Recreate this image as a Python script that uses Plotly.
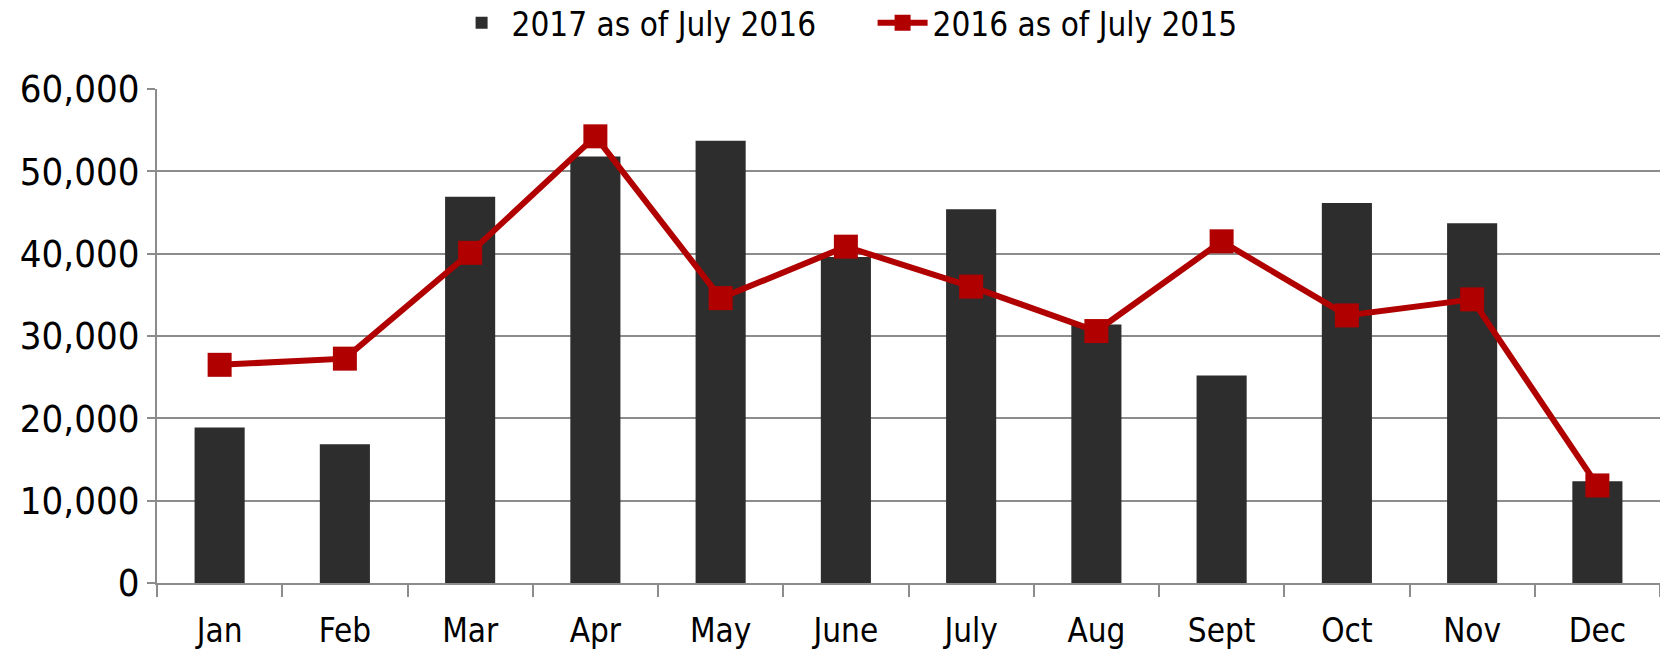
import plotly.graph_objects as go

months = ["Jan", "Feb", "Mar", "Apr", "May", "June", "July", "Aug", "Sept", "Oct", "Nov", "Dec"]
series_2017 = [18900, 16850, 46900, 51800, 53700, 39600, 45400, 31400, 25200, 46150, 43700, 12350]
series_2016 = [26500, 27250, 40100, 54250, 34600, 40850, 36000, 30600, 41500, 32500, 34450, 11850]
y_ticks = [0, 10000, 20000, 30000, 40000, 50000, 60000]

FONT = "Liberation Sans Narrow, DejaVu Sans Condensed, Arial Narrow, sans-serif"

fig = go.Figure()
fig.add_trace(go.Bar(
    x=months, y=series_2017, name="2017 as of July 2016",
    marker=dict(color="#2d2d2d", line=dict(width=0)), width=0.4,
))
fig.add_trace(go.Scatter(
    x=months, y=series_2016, name="2016 as of July 2015", mode="lines+markers",
    line=dict(color="#b00000", width=6),
    marker=dict(symbol="square", size=24, color="#b00000"),
))

fig.update_layout(
    width=1660, height=650,
    margin=dict(l=157, r=0, t=89, b=67, autoexpand=False),
    paper_bgcolor="white", plot_bgcolor="white",
    font=dict(family=FONT, size=33, color="black"),
    showlegend=True,
    legend=dict(orientation="h", x=0.196, xanchor="left",
                yref="container", y=0.965, yanchor="middle",
                font=dict(size=33), tracegroupgap=0, itemwidth=50,
                entrywidth=356, entrywidthmode="pixels"),
)
fig.update_xaxes(
    type="category", showline=True, linecolor="#8c8c8c", linewidth=2,
    ticks="outside", tickson="boundaries", ticklen=12, tickcolor="#8c8c8c", tickwidth=2,
    showgrid=False, tickfont=dict(size=33), range=[-0.5, 11.5],
    ticklabelstandoff=17,
)
fig.update_yaxes(
    range=[0, 60000], tickvals=y_ticks, tickformat=",d",
    showline=True, linecolor="#8c8c8c", linewidth=2,
    ticks="outside", ticklen=8, tickcolor="#8c8c8c", tickwidth=2,
    showgrid=True, gridcolor="#8c8c8c", gridwidth=2, zeroline=False,
    tickfont=dict(size=38),
)

fig.write_html("out.html")
